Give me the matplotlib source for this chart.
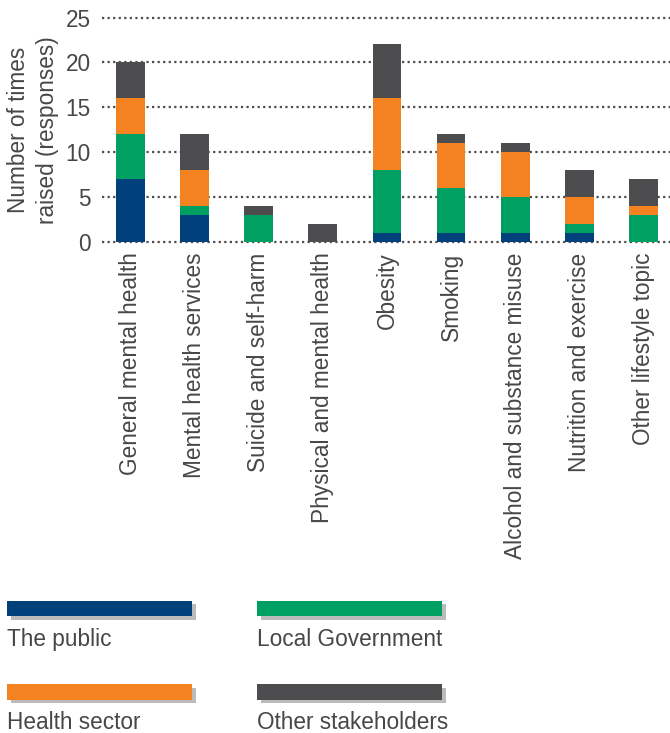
import matplotlib
matplotlib.use("Agg")
import matplotlib.pyplot as plt
from matplotlib.patches import Rectangle
import numpy as np

plt.rcParams['font.family'] = ['Liberation Sans', 'DejaVu Sans']

categories = ["General mental health", "Mental health services", "Suicide and self-harm",
              "Physical and mental health", "Obesity", "Smoking",
              "Alcohol and substance misuse", "Nutrition and exercise", "Other lifestyle topic"]
series_names = ["The public", "Local Government", "Health sector", "Other stakeholders"]
the_public = [7, 3, 0, 0, 1, 1, 1, 1, 0]
local_government = [5, 1, 3, 0, 7, 5, 4, 1, 3]
health_sector = [4, 4, 0, 0, 8, 5, 5, 3, 1]
other_stakeholders = [4, 4, 1, 2, 6, 1, 1, 3, 3]
yticks = [0, 5, 10, 15, 20, 25]

colors = ["#00417B", "#00A062", "#F58220", "#4D4D4F"]
text_color = "#47474A"
FS = 16.3

W, H = 670, 733
fig = plt.figure(figsize=(W / 100, H / 100), dpi=100)

def fx(px):
    return px / W

def fy(py):
    return 1 - py / H

ax_left, ax_right, ax_top, ax_bottom = 102, 670, 17.5, 241.5
ax = fig.add_axes([fx(ax_left), fy(ax_bottom), fx(ax_right - ax_left), (ax_bottom - ax_top) / H])

x = np.arange(len(categories))
bottom = np.zeros(len(categories))
for vals, c in zip([the_public, local_government, health_sector, other_stakeholders], colors):
    ax.bar(x, vals, width=0.45, bottom=bottom, color=c, zorder=3, linewidth=0)
    bottom += np.array(vals)

for t in yticks:
    ax.axhline(t, color="#4D4D4F", linestyle=(0, (1, 1.5)), linewidth=1.6, zorder=1, clip_on=False)

ax.set_xlim(-0.445, 8.415)
ax.set_ylim(0, 25)
ax.set_yticks(yticks)
ax.set_xticks(x)
ax.set_xticklabels(categories, rotation=90, va="top", ha="center")
ax.tick_params(axis="both", length=0, labelsize=FS, colors=text_color)
ax.tick_params(axis="x", pad=8)
ax.tick_params(axis="y", pad=8)
for s in ax.spines.values():
    s.set_visible(False)

fig.text(fx(33), fy(130), "Number of times\nraised (responses)", rotation=90, ha="center", va="center",
         fontsize=FS, color=text_color, multialignment="center", linespacing=1.3)

# legend
leg_items = [(7, 600.5, 646), (257, 600.5, 646), (7, 684, 729), (257, 684, 729)]
for (lx, ly, ty), name, c in zip(leg_items, series_names, colors):
    pw, ph = 185, 15.5
    shadow = Rectangle((fx(lx + 3.5), fy(ly + ph + 3.5)), fx(pw), ph / H, transform=fig.transFigure,
                       facecolor="#BBBBBB", edgecolor="none", zorder=1)
    patch = Rectangle((fx(lx), fy(ly + ph)), fx(pw), ph / H, transform=fig.transFigure,
                      facecolor=c, edgecolor="none", zorder=2)
    fig.patches.extend([shadow, patch])
    fig.text(fx(lx), fy(ty), name, ha="left", va="baseline", fontsize=FS, color=text_color)

fig.savefig("out.png", dpi=100)
